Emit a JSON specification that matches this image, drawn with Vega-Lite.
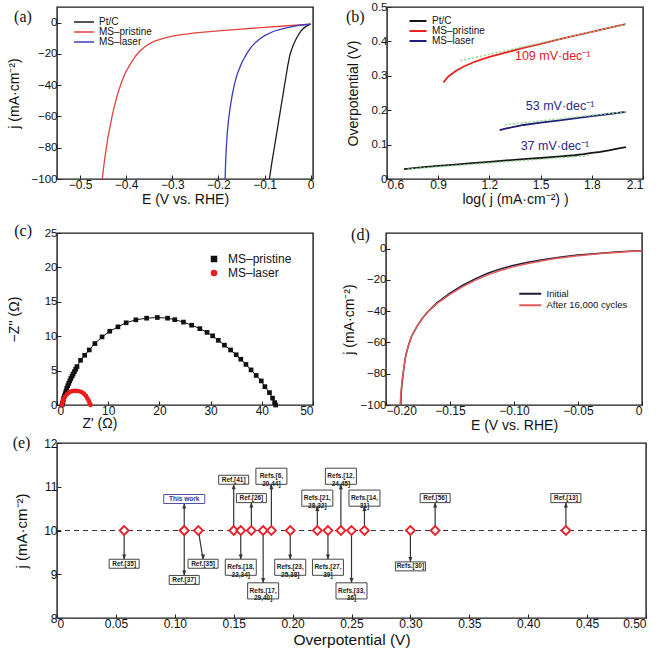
{
"$schema": "https://vega.github.io/schema/vega-lite/v6.json",
"background": "white",
"padding": {"left": 6, "top": 0, "right": 4, "bottom": 0},
"config": {
 "font": "Liberation Sans",
 "view": {"stroke": "#1a1a1a", "strokeWidth": 1.4},
 "axis": {"grid": false, "domain": false, "ticks": true, "tickColor": "#222", "tickSize": -4, "tickWidth": 1, "labelFontSize": 12, "labelColor": "#111", "labelPadding": 4, "titleFontSize": 14, "titleFontWeight": "normal", "titleColor": "#111"},
 "axisY": {"labelFontSize": 11.5},
 "legend": {"labelColor": "#111", "padding": 0, "rowPadding": 0},
 "title": {"font": "Liberation Serif", "fontSize": 16, "fontWeight": "normal", "anchor": "start", "frame": "bounds", "baseline": "top", "color": "#111"}
},
"resolve": {"scale": {"color": "independent", "shape": "independent"}, "legend": {"color": "independent", "shape": "independent"}},
"spacing": 15,
"vconcat": [
  {"spacing": 74, "bounds": "flush",
   "resolve": {"scale": {"color": "independent", "shape": "independent"}, "legend": {"color": "independent", "shape": "independent"}},
   "hconcat": [
   {
    "width": 256, "height": 172,
    "title": {"text": "(a)", "dx": 7, "offset": -18},
    "data": {"values": [
     {"s":"Pt/C","x":0,"y":-1},{"s":"Pt/C","x":-0.005,"y":-1.6},{"s":"Pt/C","x":-0.01,"y":-2.4},{"s":"Pt/C","x":-0.015,"y":-3.5},{"s":"Pt/C","x":-0.02,"y":-5},{"s":"Pt/C","x":-0.025,"y":-7},{"s":"Pt/C","x":-0.03,"y":-9.5},{"s":"Pt/C","x":-0.035,"y":-12.5},{"s":"Pt/C","x":-0.04,"y":-16},{"s":"Pt/C","x":-0.045,"y":-20.5},{"s":"Pt/C","x":-0.05,"y":-28},{"s":"Pt/C","x":-0.055,"y":-37},{"s":"Pt/C","x":-0.06,"y":-46},{"s":"Pt/C","x":-0.065,"y":-55},{"s":"Pt/C","x":-0.07,"y":-64},{"s":"Pt/C","x":-0.075,"y":-73},{"s":"Pt/C","x":-0.08,"y":-82},{"s":"Pt/C","x":-0.085,"y":-91},{"s":"Pt/C","x":-0.0895,"y":-100},
     {"s":"MS–pristine","x":0,"y":-1},{"s":"MS–pristine","x":-0.05,"y":-2},{"s":"MS–pristine","x":-0.1,"y":-3},{"s":"MS–pristine","x":-0.15,"y":-4.2},{"s":"MS–pristine","x":-0.2,"y":-5.3},{"s":"MS–pristine","x":-0.25,"y":-6.6},{"s":"MS–pristine","x":-0.28,"y":-7.6},{"s":"MS–pristine","x":-0.3,"y":-8.6},{"s":"MS–pristine","x":-0.32,"y":-10},{"s":"MS–pristine","x":-0.34,"y":-12},{"s":"MS–pristine","x":-0.355,"y":-14.5},{"s":"MS–pristine","x":-0.37,"y":-18},{"s":"MS–pristine","x":-0.38,"y":-21.5},{"s":"MS–pristine","x":-0.39,"y":-26},{"s":"MS–pristine","x":-0.4,"y":-31},{"s":"MS–pristine","x":-0.41,"y":-38},{"s":"MS–pristine","x":-0.42,"y":-47},{"s":"MS–pristine","x":-0.43,"y":-59},{"s":"MS–pristine","x":-0.44,"y":-74},{"s":"MS–pristine","x":-0.447,"y":-88},{"s":"MS–pristine","x":-0.452,"y":-100},
     {"s":"MS–laser","x":0,"y":-1},{"s":"MS–laser","x":-0.02,"y":-1.5},{"s":"MS–laser","x":-0.04,"y":-2.5},{"s":"MS–laser","x":-0.06,"y":-3.8},{"s":"MS–laser","x":-0.08,"y":-5.5},{"s":"MS–laser","x":-0.1,"y":-8.3},{"s":"MS–laser","x":-0.11,"y":-10.3},{"s":"MS–laser","x":-0.12,"y":-12.8},{"s":"MS–laser","x":-0.13,"y":-16},{"s":"MS–laser","x":-0.14,"y":-20.5},{"s":"MS–laser","x":-0.15,"y":-26},{"s":"MS–laser","x":-0.16,"y":-33.5},{"s":"MS–laser","x":-0.165,"y":-39},{"s":"MS–laser","x":-0.17,"y":-46},{"s":"MS–laser","x":-0.175,"y":-55},{"s":"MS–laser","x":-0.178,"y":-62},{"s":"MS–laser","x":-0.181,"y":-71},{"s":"MS–laser","x":-0.183,"y":-80},{"s":"MS–laser","x":-0.1845,"y":-90},{"s":"MS–laser","x":-0.1855,"y":-100}
    ]},
    "mark": {"type": "line", "strokeWidth": 1.3, "clip": true},
    "encoding": {
     "x": {"field": "x", "type": "quantitative", "scale": {"domain": [-0.55, 0.005], "nice": false, "zero": false},
      "axis": {"values": [-0.5,-0.4,-0.3,-0.2,-0.1,0], "labelExpr": "datum.value === 0 ? '0' : format(datum.value, '.1f')", "titlePadding": 2}, "title": "E (V vs. RHE)"},
     "y": {"field": "y", "type": "quantitative", "scale": {"domain": [-100, 10], "nice": false},
      "axis": {"values": [-100,-80,-60,-40,-20,0], "titlePadding": 10}, "title": "j (mA·cm⁻²)"},
     "color": {"field": "s", "type": "nominal", "scale": {"domain": ["Pt/C","MS–pristine","MS–laser"], "range": ["#1e1e1e","#e2433c","#3c3cbc"]},
      "legend": {"title": null, "orient": "none", "legendX": 22, "legendY": 10, "symbolType": "M-4,0H4", "symbolSize": 25, "symbolStrokeWidth": 1.5, "labelFontSize": 10, "labelOffset": 10, "rowPadding": 0}}
    }
   },
   {
    "width": 256, "height": 172,
    "title": {"text": "(b)", "dx": 0, "offset": -24},
    "encoding": {
     "x": {"field": "x", "type": "quantitative", "scale": {"domain": [0.6, 2.1], "nice": false, "zero": false},
      "axis": {"values": [0.6,0.9,1.2,1.5,1.8,2.1], "labelExpr": "format(datum.value, '.1f')", "titlePadding": 2}, "title": "log( j  (mA·cm⁻²) )"},
     "y": {"field": "y", "type": "quantitative", "scale": {"domain": [0, 0.5], "nice": false},
      "axis": {"values": [0,0.1,0.2,0.3,0.4,0.5], "labelExpr": "datum.value === 0 ? '0' : format(datum.value, '.1f')", "titlePadding": 11}, "title": "Overpotential (V)"}
    },
    "layer": [
     {
      "data": {"values": [
       {"s":"Pt/C","x":0.7,"y":0.029},{"s":"Pt/C","x":0.8,"y":0.034},{"s":"Pt/C","x":0.9,"y":0.038},{"s":"Pt/C","x":1.0,"y":0.042},{"s":"Pt/C","x":1.1,"y":0.046},{"s":"Pt/C","x":1.2,"y":0.05},{"s":"Pt/C","x":1.3,"y":0.054},{"s":"Pt/C","x":1.4,"y":0.058},{"s":"Pt/C","x":1.5,"y":0.061},{"s":"Pt/C","x":1.6,"y":0.065},{"s":"Pt/C","x":1.7,"y":0.069},{"s":"Pt/C","x":1.75,"y":0.072},{"s":"Pt/C","x":1.8,"y":0.076},{"s":"Pt/C","x":1.85,"y":0.079},{"s":"Pt/C","x":1.9,"y":0.083},{"s":"Pt/C","x":1.95,"y":0.088},{"s":"Pt/C","x":2.0,"y":0.093},
       {"s":"MS–pristine","x":0.93,"y":0.281},{"s":"MS–pristine","x":0.96,"y":0.298},{"s":"MS–pristine","x":1.0,"y":0.313},{"s":"MS–pristine","x":1.05,"y":0.327},{"s":"MS–pristine","x":1.1,"y":0.338},{"s":"MS–pristine","x":1.15,"y":0.347},{"s":"MS–pristine","x":1.2,"y":0.355},{"s":"MS–pristine","x":1.3,"y":0.368},{"s":"MS–pristine","x":1.4,"y":0.381},{"s":"MS–pristine","x":1.5,"y":0.393},{"s":"MS–pristine","x":1.6,"y":0.405},{"s":"MS–pristine","x":1.7,"y":0.417},{"s":"MS–pristine","x":1.8,"y":0.428},{"s":"MS–pristine","x":1.9,"y":0.439},{"s":"MS–pristine","x":2.0,"y":0.45},
       {"s":"MS–laser","x":1.26,"y":0.142},{"s":"MS–laser","x":1.3,"y":0.147},{"s":"MS–laser","x":1.35,"y":0.152},{"s":"MS–laser","x":1.4,"y":0.157},{"s":"MS–laser","x":1.5,"y":0.164},{"s":"MS–laser","x":1.6,"y":0.17},{"s":"MS–laser","x":1.7,"y":0.176},{"s":"MS–laser","x":1.8,"y":0.183},{"s":"MS–laser","x":1.9,"y":0.189},{"s":"MS–laser","x":2.0,"y":0.195}
      ]},
      "mark": {"type": "line", "strokeWidth": 1.8},
      "encoding": {
       "color": {"field": "s", "type": "nominal", "scale": {"domain": ["Pt/C","MS–pristine","MS–laser"], "range": ["#151515","#e8231e","#1f1f7a"]},
        "legend": {"title": null, "orient": "none", "legendX": 26, "legendY": 9, "symbolType": "M-3.4,0H3.4", "symbolSize": 25, "symbolStrokeWidth": 2, "labelFontSize": 10, "labelOffset": 9, "rowPadding": 0}}
      }
     },
     {
      "data": {"values": [
       {"s":"Pt/C","x":0.72,"y":0.0288},{"s":"Pt/C","x":1.78,"y":0.068},
       {"s":"MS–laser","x":1.29,"y":0.158},{"s":"MS–laser","x":2.0,"y":0.1956},
       {"s":"MS–pristine","x":1.03,"y":0.344},{"s":"MS–pristine","x":2.0,"y":0.4497}
      ]},
      "mark": {"type": "line", "strokeWidth": 1.4, "strokeDash": [2, 2], "color": "#8dd38d"},
      "encoding": {"detail": {"field": "s", "type": "nominal"}}
     },
     {
      "data": {"values": [
       {"t":"109 mV·dec⁻¹","x":1.571,"y":0.358},
       {"t":"53 mV·dec⁻¹","x":1.614,"y":0.213},
       {"t":"37 mV·dec⁻¹","x":1.584,"y":0.095}
      ]},
      "mark": {"type": "text", "fontSize": 12.5},
      "encoding": {
       "text": {"field": "t", "type": "nominal"},
       "color": {"condition": {"test": "datum.y > 0.3", "value": "#e3201c"}, "value": "#2a2a86"}
      }
     }
    ]
   }
  ]},
 {"spacing": 1,
  "resolve": {"scale": {"color": "independent", "shape": "independent"}, "legend": {"color": "independent", "shape": "independent"}},
  "vconcat": [
  {"spacing": 73, "bounds": "flush",
   "resolve": {"scale": {"color": "independent", "shape": "independent"}, "legend": {"color": "independent", "shape": "independent"}},
   "hconcat": [
   {
    "width": 256, "height": 172,
    "title": {"text": "(c)", "dx": 7, "offset": -12},
    "data": {"values": [
     {"s":"MS–pristine","x":1.0,"y":0},{"s":"MS–pristine","x":1.1,"y":0.3},{"s":"MS–pristine","x":1.2,"y":0.6},{"s":"MS–pristine","x":1.3,"y":0.95},{"s":"MS–pristine","x":1.45,"y":1.3},{"s":"MS–pristine","x":1.6,"y":1.65},{"s":"MS–pristine","x":1.75,"y":2.0},{"s":"MS–pristine","x":1.9,"y":2.4},{"s":"MS–pristine","x":2.1,"y":2.8},{"s":"MS–pristine","x":2.3,"y":3.15},{"s":"MS–pristine","x":2.5,"y":3.5},{"s":"MS–pristine","x":2.7,"y":3.85},{"s":"MS–pristine","x":2.95,"y":4.2},{"s":"MS–pristine","x":3.15,"y":4.5},{"s":"MS–pristine","x":3.4,"y":4.85},{"s":"MS–pristine","x":3.65,"y":5.2},{"s":"MS–pristine","x":3.9,"y":5.58},{"s":"MS–pristine","x":4.6,"y":6.5},{"s":"MS–pristine","x":5.4,"y":7.23},{"s":"MS–pristine","x":6.3,"y":8.0},{"s":"MS–pristine","x":7.4,"y":8.93},{"s":"MS–pristine","x":8.8,"y":9.9},{"s":"MS–pristine","x":10.3,"y":10.72},{"s":"MS–pristine","x":11.9,"y":11.36},{"s":"MS–pristine","x":13.5,"y":11.95},{"s":"MS–pristine","x":15.4,"y":12.38},{"s":"MS–pristine","x":17.5,"y":12.62},{"s":"MS–pristine","x":19.6,"y":12.72},{"s":"MS–pristine","x":21.6,"y":12.62},{"s":"MS–pristine","x":23.0,"y":12.4},{"s":"MS–pristine","x":24.7,"y":12.05},{"s":"MS–pristine","x":26.3,"y":11.6},{"s":"MS–pristine","x":27.9,"y":11.1},{"s":"MS–pristine","x":29.3,"y":10.55},{"s":"MS–pristine","x":30.4,"y":10.05},{"s":"MS–pristine","x":31.5,"y":9.4},{"s":"MS–pristine","x":32.7,"y":8.7},{"s":"MS–pristine","x":33.9,"y":8.0},{"s":"MS–pristine","x":35.0,"y":7.3},{"s":"MS–pristine","x":35.9,"y":6.65},{"s":"MS–pristine","x":36.9,"y":5.9},{"s":"MS–pristine","x":37.9,"y":5.1},{"s":"MS–pristine","x":38.9,"y":4.3},{"s":"MS–pristine","x":39.9,"y":3.5},{"s":"MS–pristine","x":40.6,"y":2.67},{"s":"MS–pristine","x":41.5,"y":1.8},{"s":"MS–pristine","x":42.1,"y":1.0},{"s":"MS–pristine","x":42.5,"y":0.35},{"s":"MS–pristine","x":42.7,"y":0},
     {"s":"MS–laser","x":1.0,"y":0},{"s":"MS–laser","x":1.1,"y":0.45},{"s":"MS–laser","x":1.3,"y":0.85},{"s":"MS–laser","x":1.6,"y":1.25},{"s":"MS–laser","x":1.95,"y":1.58},{"s":"MS–laser","x":2.35,"y":1.82},{"s":"MS–laser","x":2.8,"y":1.97},{"s":"MS–laser","x":3.3,"y":2.04},{"s":"MS–laser","x":3.8,"y":2.05},{"s":"MS–laser","x":4.3,"y":2.0},{"s":"MS–laser","x":4.8,"y":1.88},{"s":"MS–laser","x":5.25,"y":1.65},{"s":"MS–laser","x":5.65,"y":1.32},{"s":"MS–laser","x":5.95,"y":0.95},{"s":"MS–laser","x":6.2,"y":0.6},{"s":"MS–laser","x":6.4,"y":0.25},{"s":"MS–laser","x":6.55,"y":0}
    ]},
    "encoding": {
     "x": {"field": "x", "type": "quantitative", "scale": {"domain": [0, 50], "nice": false},
      "axis": {"values": [0,10,20,30,40,50], "titlePadding": 0, "titleAnchor": "start", "titleAlign": "left", "titleX": 25}, "title": "Z' (Ω)"},
     "y": {"field": "y", "type": "quantitative", "scale": {"domain": [0, 25], "nice": false},
      "axis": {"values": [0,5,10,15,20,25], "titlePadding": 23}, "title": "−Z'' (Ω)"},
     "color": {"field": "s", "type": "nominal", "scale": {"domain": ["MS–pristine","MS–laser"], "range": ["#111111","#ee1c1c"]},
      "legend": {"title": null, "orient": "none", "legendX": 151, "legendY": 20, "labelFontSize": 12, "labelOffset": 8, "rowPadding": 2, "symbolSize": 25}}
    },
    "layer": [
     {"transform": [{"filter": "datum.s === 'MS–pristine'"}], "mark": {"type": "line", "strokeWidth": 1}},
     {"transform": [{"filter": "datum.s === 'MS–laser'"}], "mark": {"type": "line", "strokeWidth": 3}},
     {"mark": {"type": "point", "filled": true, "size": 22, "opacity": 1},
      "encoding": {"shape": {"field": "s", "type": "nominal", "scale": {"domain": ["MS–pristine","MS–laser"], "range": ["square","circle"]},
       "legend": {"title": null, "orient": "none", "legendX": 151, "legendY": 20, "labelFontSize": 12, "labelOffset": 8, "rowPadding": 2, "symbolSize": 25}}}}
    ]
   },
   {
    "width": 256, "height": 172,
    "title": {"text": "(d)", "dx": 9, "offset": -10},
    "data": {"values": [
     {"s":"Initial","x":0,"y":-1.3},{"s":"Initial","x":-0.01,"y":-1.7},{"s":"Initial","x":-0.02,"y":-2.2},{"s":"Initial","x":-0.03,"y":-2.8},{"s":"Initial","x":-0.04,"y":-3.4},{"s":"Initial","x":-0.05,"y":-4.1},{"s":"Initial","x":-0.06,"y":-5.0},{"s":"Initial","x":-0.07,"y":-6.1},{"s":"Initial","x":-0.08,"y":-7.4},{"s":"Initial","x":-0.09,"y":-8.9},{"s":"Initial","x":-0.1,"y":-10.6},{"s":"Initial","x":-0.11,"y":-12.8},{"s":"Initial","x":-0.12,"y":-15.6},{"s":"Initial","x":-0.13,"y":-19.2},{"s":"Initial","x":-0.14,"y":-23.4},{"s":"Initial","x":-0.15,"y":-28.4},{"s":"Initial","x":-0.16,"y":-34.5},{"s":"Initial","x":-0.167,"y":-40},{"s":"Initial","x":-0.172,"y":-45},{"s":"Initial","x":-0.176,"y":-50},{"s":"Initial","x":-0.18,"y":-56},{"s":"Initial","x":-0.1825,"y":-62},{"s":"Initial","x":-0.1845,"y":-68},{"s":"Initial","x":-0.186,"y":-76},{"s":"Initial","x":-0.187,"y":-83},{"s":"Initial","x":-0.188,"y":-91},{"s":"Initial","x":-0.1885,"y":-100},
     {"s":"After 16,000 cycles","x":0,"y":-1.3},{"s":"After 16,000 cycles","x":-0.01,"y":-1.8},{"s":"After 16,000 cycles","x":-0.02,"y":-2.4},{"s":"After 16,000 cycles","x":-0.03,"y":-3.0},{"s":"After 16,000 cycles","x":-0.04,"y":-3.7},{"s":"After 16,000 cycles","x":-0.05,"y":-4.5},{"s":"After 16,000 cycles","x":-0.06,"y":-5.5},{"s":"After 16,000 cycles","x":-0.07,"y":-6.7},{"s":"After 16,000 cycles","x":-0.08,"y":-8.1},{"s":"After 16,000 cycles","x":-0.09,"y":-9.7},{"s":"After 16,000 cycles","x":-0.1,"y":-11.5},{"s":"After 16,000 cycles","x":-0.11,"y":-13.8},{"s":"After 16,000 cycles","x":-0.12,"y":-16.6},{"s":"After 16,000 cycles","x":-0.13,"y":-20.1},{"s":"After 16,000 cycles","x":-0.14,"y":-24.3},{"s":"After 16,000 cycles","x":-0.15,"y":-29.2},{"s":"After 16,000 cycles","x":-0.16,"y":-35},{"s":"After 16,000 cycles","x":-0.167,"y":-40.2},{"s":"After 16,000 cycles","x":-0.172,"y":-45},{"s":"After 16,000 cycles","x":-0.176,"y":-50},{"s":"After 16,000 cycles","x":-0.18,"y":-56},{"s":"After 16,000 cycles","x":-0.1825,"y":-62},{"s":"After 16,000 cycles","x":-0.1845,"y":-68.5},{"s":"After 16,000 cycles","x":-0.186,"y":-76},{"s":"After 16,000 cycles","x":-0.1872,"y":-83},{"s":"After 16,000 cycles","x":-0.1882,"y":-91},{"s":"After 16,000 cycles","x":-0.189,"y":-100}
    ]},
    "encoding": {
     "x": {"field": "x", "type": "quantitative", "scale": {"domain": [-0.2, 0], "nice": false, "zero": false},
      "axis": {"values": [-0.2,-0.15,-0.1,-0.05,0], "labelExpr": "datum.value === 0 ? '0' : format(datum.value, '.2f')", "titlePadding": 2}, "title": "E (V vs. RHE)"},
     "y": {"field": "y", "type": "quantitative", "scale": {"domain": [-100, 10], "nice": false},
      "axis": {"values": [-100,-80,-60,-40,-20,0], "titlePadding": 4}, "title": "j (mA·cm⁻²)"},
     "color": {"field": "s", "type": "nominal", "scale": {"domain": ["Initial","After 16,000 cycles"], "range": ["#1c1c34","#e45a5a"]},
      "legend": {"title": null, "orient": "none", "legendX": 139.5, "legendY": 56, "symbolType": "M-4.4,0H4.4", "symbolSize": 25, "symbolStrokeWidth": 2, "labelFontSize": 9.5, "labelOffset": 11.5, "rowPadding": 0.5}}
    },
    "layer": [
     {"transform": [{"filter": "datum.s === 'Initial'"}], "mark": {"type": "line", "strokeWidth": 1.5, "clip": true}},
     {"transform": [{"filter": "datum.s !== 'Initial'"}], "mark": {"type": "line", "strokeWidth": 1.5, "clip": true}}
    ]
   }
  ]},
 {
  "width": 589, "height": 175,
  "title": {"text": "(e)", "dx": -2, "offset": -14},
  "data": {"values": [
   {"v":0.057,"j":10,"lab":"Ref.[35]","lx":0.057,"ly":9.24,"ay":9.34},
   {"v":0.108,"j":10,"lab":"This work","lx":0.108,"ly":10.72,"ay":10.62},
   {"v":0.108,"j":10,"lab":"Ref.[37]","lx":0.108,"ly":8.87,"ay":8.97},
   {"v":0.12,"j":10,"lab":"Ref.[35]","lx":0.124,"ly":9.24,"ay":9.34},
   {"v":0.15,"j":10,"lab":"Ref.[41]","lx":0.15,"ly":11.16,"ay":11.06},
   {"v":0.156,"j":10,"lab":"Refs.[18,\n22,34]","lx":0.156,"ly":9.16,"ay":9.34},
   {"v":0.165,"j":10,"lab":"Ref.[26]","lx":0.165,"ly":10.74,"ay":10.64},
   {"v":0.175,"j":10,"lab":"Refs.[17,\n29,40]","lx":0.175,"ly":8.62,"ay":8.8},
   {"v":0.182,"j":10,"lab":"Refs.[6,\n20,44]","lx":0.182,"ly":11.24,"ay":11.06},
   {"v":0.198,"j":10,"lab":"Refs.[23,\n25,38]","lx":0.198,"ly":9.16,"ay":9.34},
   {"v":0.221,"j":10,"lab":"Refs.[21,\n28,32]","lx":0.221,"ly":10.74,"ay":10.56},
   {"v":0.23,"j":10,"lab":"Refs.[27,\n39]","lx":0.23,"ly":9.16,"ay":9.34},
   {"v":0.241,"j":10,"lab":"Refs.[12,\n24,45]","lx":0.241,"ly":11.24,"ay":11.06},
   {"v":0.25,"j":10,"lab":"Refs.[33,\n36]","lx":0.25,"ly":8.62,"ay":8.8},
   {"v":0.261,"j":10,"lab":"Refs.[14,\n31]","lx":0.261,"ly":10.74,"ay":10.56},
   {"v":0.3,"j":10,"lab":"Refs.[30]","lx":0.3,"ly":9.18,"ay":9.28},
   {"v":0.321,"j":10,"lab":"Ref.[56]","lx":0.321,"ly":10.74,"ay":10.64},
   {"v":0.432,"j":10,"lab":"Ref.[13]","lx":0.432,"ly":10.74,"ay":10.64}
  ]},
  "layer": [
   {
    "data": {"values": [{}]},
    "mark": {"type": "rule", "strokeDash": [5, 4], "color": "#333", "strokeWidth": 1.2},
    "encoding": {"y": {"datum": 10, "type": "quantitative", "scale": {"domain": [8, 12], "nice": false},
      "axis": {"values": [8,9,10,11,12], "titlePadding": 14, "labelFontSize": 12, "titleFontSize": 15}, "title": "j (mA·cm⁻²)"}}
   },
   {
    "mark": {"type": "rule", "color": "#333", "strokeWidth": 1.2},
    "encoding": {
     "x": {"field": "v", "type": "quantitative", "scale": {"domain": [0, 0.5], "nice": false},
      "axis": {"values": [0,0.05,0.1,0.15,0.2,0.25,0.3,0.35,0.4,0.45,0.5], "labelExpr": "datum.value === 0 ? '0' : format(datum.value, '.2f')", "titlePadding": 3, "titleFontSize": 15.5}, "title": "Overpotential (V)"},
     "x2": {"field": "lx"},
     "y": {"field": "j", "type": "quantitative", "title": "j (mA·cm⁻²)"},
     "y2": {"field": "ay"}
    }
   },
   {
    "mark": {"type": "point", "filled": true, "size": 4, "color": "#333", "opacity": 1},
    "encoding": {
     "x": {"field": "lx", "type": "quantitative", "title": "Overpotential (V)"},
     "y": {"field": "ay", "type": "quantitative", "title": "j (mA·cm⁻²)"},
     "shape": {"condition": {"test": "datum.ay > 10", "value": "M0,0L-2,5L2,5Z"}, "value": "M0,0L-2,-5L2,-5Z"}
    }
   },
   {
    "transform": [{"filter": "indexof(datum.lab, ',') < 0 && datum.lab !== 'This work'"}],
    "mark": {"type": "point", "shape": "M-1,-0.3H1V0.3H-1Z", "size": 900, "fill": "white", "fillOpacity": 1, "stroke": "#444", "strokeWidth": 1, "opacity": 1},
    "encoding": {
     "x": {"field": "lx", "type": "quantitative", "title": "Overpotential (V)"},
     "y": {"field": "ly", "type": "quantitative", "title": "j (mA·cm⁻²)"}
    }
   },
   {
    "transform": [{"filter": "indexof(datum.lab, ',') >= 0"}],
    "mark": {"type": "point", "shape": "M-1,-0.52H1V0.52H-1Z", "size": 961, "fill": "white", "fillOpacity": 1, "stroke": "#444", "strokeWidth": 1, "opacity": 1},
    "encoding": {
     "x": {"field": "lx", "type": "quantitative", "title": "Overpotential (V)"},
     "y": {"field": "ly", "type": "quantitative", "title": "j (mA·cm⁻²)"}
    }
   },
   {
    "transform": [{"filter": "datum.lab === 'This work'"}],
    "mark": {"type": "point", "shape": "M-1,-0.22H1V0.22H-1Z", "size": 1681, "fill": "white", "fillOpacity": 1, "stroke": "#5050b0", "strokeWidth": 1, "opacity": 1},
    "encoding": {
     "x": {"field": "lx", "type": "quantitative", "title": "Overpotential (V)"},
     "y": {"field": "ly", "type": "quantitative", "title": "j (mA·cm⁻²)"}
    }
   },
   {
    "mark": {"type": "text", "fontSize": 6.5, "fontWeight": "bold", "lineBreak": "\n", "lineHeight": 7.5, "baseline": "middle", "align": "center"},
    "encoding": {
     "x": {"field": "lx", "type": "quantitative", "title": "Overpotential (V)"},
     "y": {"field": "ly", "type": "quantitative", "title": "j (mA·cm⁻²)"},
     "text": {"field": "lab", "type": "nominal"},
     "color": {"condition": {"test": "datum.lab === 'This work'", "value": "#3535a5"}, "value": "#222"}
    }
   },
   {
    "mark": {"type": "point", "shape": "diamond", "size": 80, "fill": "white", "fillOpacity": 1, "stroke": "#e8202a", "strokeWidth": 1.8, "opacity": 1},
    "encoding": {
     "x": {"field": "v", "type": "quantitative", "title": "Overpotential (V)"},
     "y": {"field": "j", "type": "quantitative", "title": "j (mA·cm⁻²)"}
    }
   }
  ]
 }
 ]}
]
}
